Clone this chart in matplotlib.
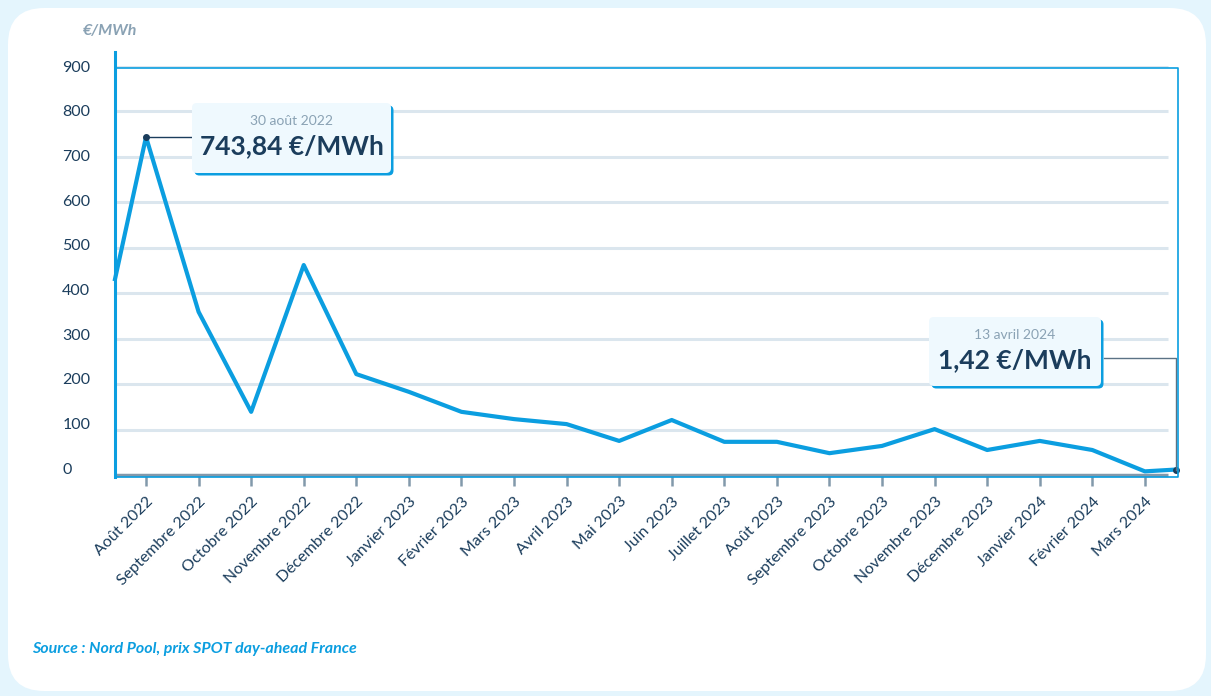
import numpy as np
import matplotlib.pyplot as plt
from matplotlib.patches import FancyBboxPatch
from matplotlib.lines import Line2D
from matplotlib.transforms import ScaledTranslation

plt.rcParams['font.family'] = ['Lato', 'DejaVu Sans']

mois = ['Août 2022', 'Septembre 2022', 'Octobre 2022', 'Novembre 2022', 'Décembre 2022',
        'Janvier 2023', 'Février 2023', 'Mars 2023', 'Avril 2023', 'Mai 2023', 'Juin 2023',
        'Juillet 2023', 'Août 2023', 'Septembre 2023', 'Octobre 2023', 'Novembre 2023',
        'Décembre 2023', 'Janvier 2024', 'Février 2024', 'Mars 2024']
# position en mois (0 = août 2022), plus le début et la fin de la série
positions = [-0.59, 0, 1, 2, 3, 4, 5, 6, 7, 8, 9, 10, 11, 12, 13, 14, 15, 16, 17, 18, 19, 19.59]
prix = [431, 743.84, 359, 139, 462, 222, 183, 139, 123, 112, 75, 121, 73, 73, 48, 64, 101,
        55, 75, 55, 8, 12]
graduations = [0, 100, 200, 300, 400, 500, 600, 700, 800, 900]

bleu = '#0b9ee0'
marine = '#1b3d5c'
gris = '#8aa2b4'
W, H = 1211, 696

def fx(px):
    return px / W

def fy(py):
    return 1 - py / H

fig = plt.figure(figsize=(W / 100, H / 100), dpi=100)
fig.patch.set_facecolor('#e4f5fd')

# carte blanche arrondie
carte = FancyBboxPatch((fx(8), fy(691)), fx(1198), 1 - (8 + 5) / H,
                       boxstyle='round,pad=0,rounding_size=0.03', transform=fig.transFigure,
                       facecolor='white', edgecolor='none', mutation_aspect=W / H, zorder=-10)
fig.add_artist(carte)

ax = fig.add_axes([fx(115), fy(475), fx(1178 - 115), (475 - 66) / H])
ax.set_zorder(2)
ax.set_facecolor('none')
ax.set_xlim(-0.59, 19.63)
ax.set_ylim(0, 900)
for s in ax.spines.values():
    s.set_visible(False)

ax.hlines(graduations[1:], -0.59, 19.44, color='#dbe6ee', lw=2.2, zorder=1)
ax.hlines(0, -0.59, 19.44, color='#8299ab', lw=2.5, zorder=2, clip_on=False)

ax.plot(positions, prix, color=bleu, lw=3, zorder=3, solid_joinstyle='round', clip_on=False)

ax.set_xticks(range(len(mois)))
ax.set_xticklabels(mois, rotation=45, ha='right', va='top', rotation_mode='anchor')
ax.tick_params(axis='x', length=8, width=1.8, color='#8299ab', pad=6,
               labelsize=11.5, labelcolor=marine)
ax.set_yticks(graduations)
ax.set_yticklabels([str(g) for g in graduations], ha='left')
ax.tick_params(axis='y', length=0, pad=38, labelsize=11.5, labelcolor=marine)
# les libellés de l'axe y remontent un peu vers le bas de l'échelle
for lab, g in zip(ax.get_yticklabels(), graduations):
    lab.set_transform(lab.get_transform() +
                      ScaledTranslation(0, 7 * (900 - g) / 900 / 100, fig.dpi_scale_trans))

# cadre bleu
fig.add_artist(Line2D([fx(115), fx(115)], [fy(52), fy(477)], color=bleu, lw=2.2,
                      transform=fig.transFigure, zorder=5))
fig.add_artist(Line2D([fx(115), fx(1178), fx(1178), fx(115)],
                      [fy(68), fy(68), fy(477), fy(477)], color=bleu, lw=1.2,
                      transform=fig.transFigure, zorder=5))

fig.text(fx(83), fy(31), '€/MWh', color=gris, fontsize=11.5, style='italic',
         fontweight='bold', va='center', ha='left')

# annotations
def etiquette(x0, y0, x1, y1, date, valeur):
    w = fx(x1 - x0)
    h = (y1 - y0) / H
    ombre = FancyBboxPatch((fx(x0) + 2.5 / W, fy(y1) - 2.5 / H), w, h,
                           boxstyle='round,pad=0,rounding_size=0.004',
                           transform=fig.transFigure, facecolor=bleu, edgecolor='none',
                           mutation_aspect=W / H, zorder=6)
    fond = FancyBboxPatch((fx(x0), fy(y1)), w, h, boxstyle='round,pad=0,rounding_size=0.004',
                          transform=fig.transFigure, facecolor='#eff9fe', edgecolor='none',
                          mutation_aspect=W / H, zorder=7)
    fig.add_artist(ombre)
    fig.add_artist(fond)
    xc = fx((x0 + x1) / 2)
    fig.text(xc, fy(y0 + 18), date, color=gris, fontsize=10, ha='center', va='center', zorder=8)
    fig.text(xc, fy(y0 + 43), valeur, color=marine, fontsize=19, fontweight='bold',
             ha='center', va='center', zorder=8)

etiquette(192, 103, 391, 173, '30 août 2022', '743,84 €/MWh')
etiquette(929, 317, 1101, 386, '13 avril 2024', '1,42 €/MWh')

# traits de rappel
pic = prix[1]
ax.plot([positions[1]], [pic], 'o', color=marine, ms=4, zorder=4)
x_box1 = ax.transData.inverted().transform((192, H - 137))[0]
ax.plot([positions[1], x_box1], [pic, pic], color=marine, lw=1, zorder=4)

fin_x, fin_y = positions[-1], prix[-1]
ax.plot([fin_x], [fin_y], 'o', color=marine, ms=4, zorder=4, clip_on=False)
x_box2, y_box2 = ax.transData.inverted().transform((1104, H - 358))
ax.plot([x_box2, fin_x, fin_x], [y_box2, y_box2, fin_y], color='#5b7285', lw=1, zorder=4,
        clip_on=False)

fig.text(fx(32), fy(649), 'Source : Nord Pool, prix SPOT day-ahead France', color=bleu,
         fontsize=11.5, style='italic', fontweight='bold', va='center', ha='left')

fig.savefig('out.png', dpi=100, facecolor=fig.get_facecolor())
